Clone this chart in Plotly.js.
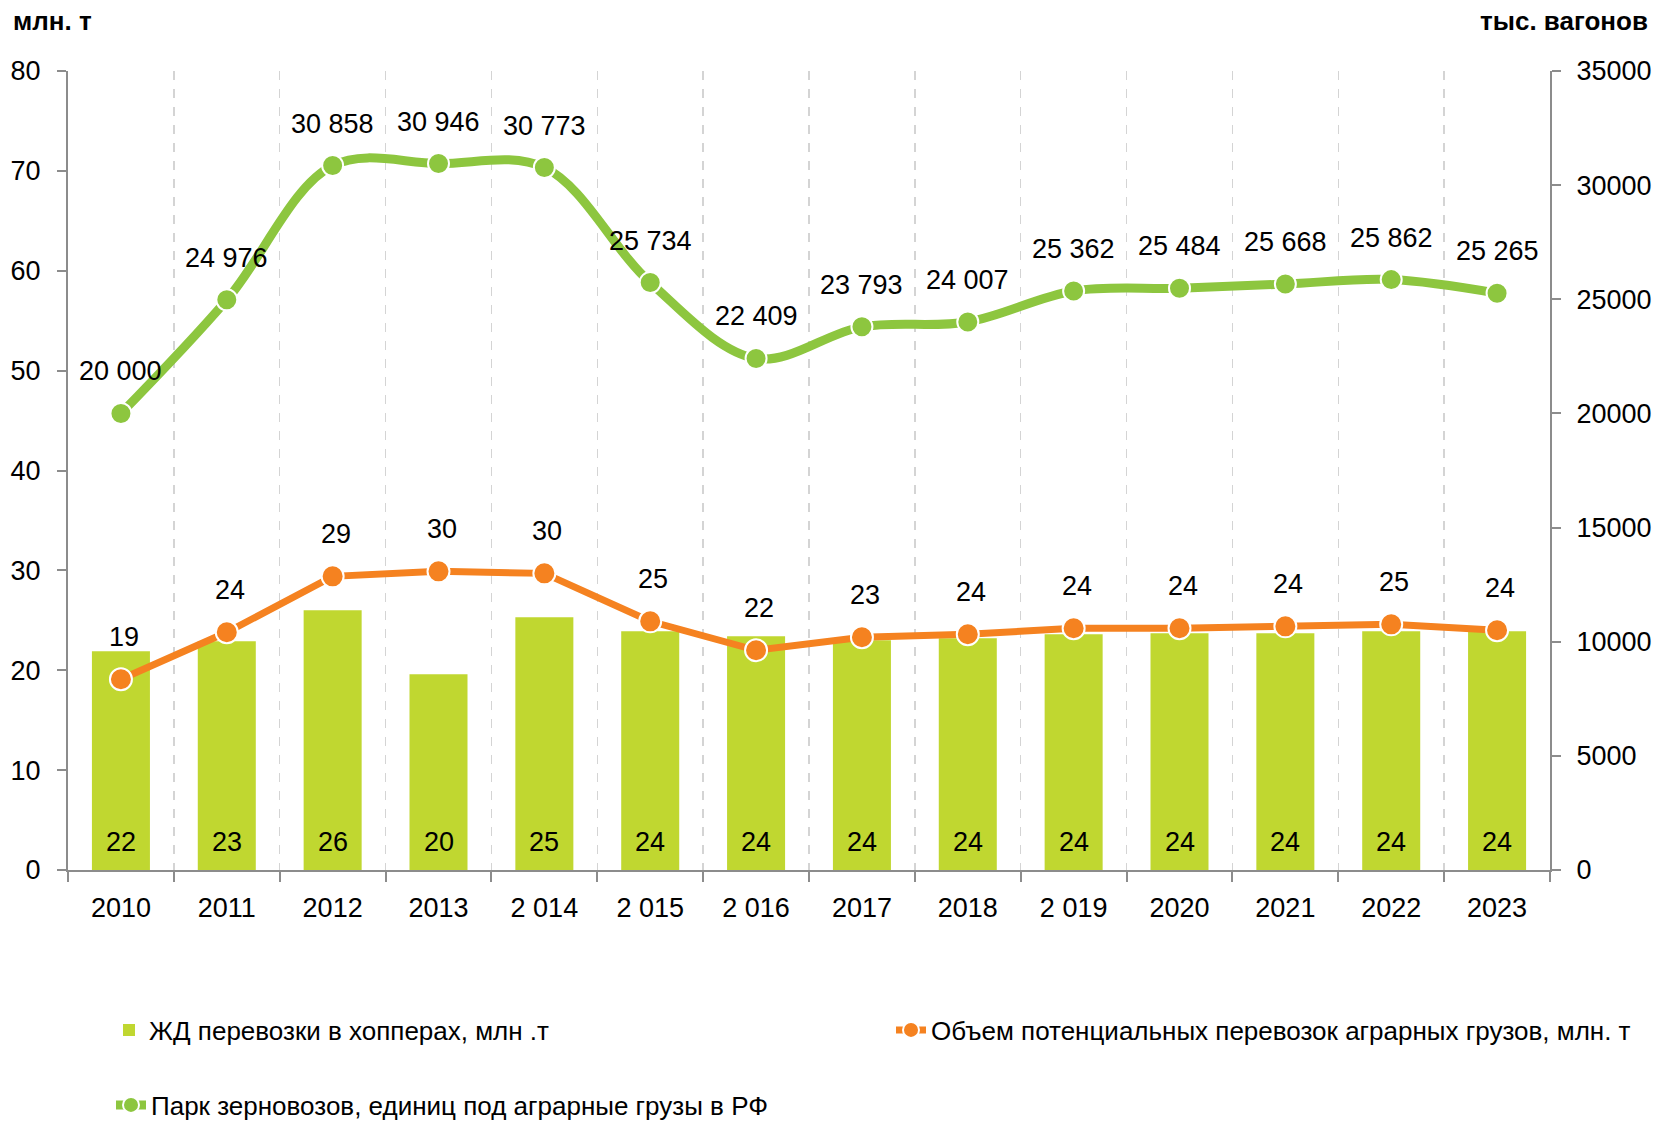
<!DOCTYPE html>
<html>
<head>
<meta charset="utf-8">
<script src="https://cdn.plot.ly/plotly-3.0.1.min.js"></script>
<style>
  html, body { margin: 0; padding: 0; background: #ffffff; }
  #chart { width: 1655px; height: 1121px; }
</style>
</head>
<body>
<div id="chart"></div>
<script>
// ---- data ----
const years = ["2010", "2011", "2012", "2013", "2 014", "2 015", "2 016", "2017", "2018", "2 019", "2020", "2021", "2022", "2023"];
const hopperTransport = [21.9, 22.9, 26.0, 19.6, 25.3, 23.9, 23.4, 23.0, 23.2, 23.6, 23.7, 23.7, 23.9, 23.9];
const hopperLabels = ["22", "23", "26", "20", "25", "24", "24", "24", "24", "24", "24", "24", "24", "24"];
const potentialVolume = [19.1, 23.8, 29.4, 29.9, 29.7, 24.9, 22.0, 23.3, 23.6, 24.2, 24.2, 24.4, 24.6, 24.0];
const grainCarFleet = [20000, 24976, 30858, 30946, 30773, 25734, 22409, 23793, 24007, 25362, 25484, 25668, 25862, 25265];

const seriesNames = [
  "ЖД перевозки в хопперах, млн .т",
  "Объем потенциальных перевозок аграрных грузов, млн. т",
  "Парк зерновозов, единиц под аграрные грузы в РФ"
];
const leftUnit = "млн. т";
const rightUnit = "тыс. вагонов";

// ---- style ----
const FONT = "'Liberation Sans', Arial, sans-serif";
const barColor = "#C0D730";
const orange = "#F58220";
const green = "#8DC63F";
const axisGray = "#8c8c8c";

function fmtThousands(v) {
  return String(v).replace(/\B(?=(\d{3})+(?!\d))/g, " ");
}

const traces = [
  { type: "bar", name: seriesNames[0], x: years, y: hopperTransport,
    marker: { color: barColor }, yaxis: "y", legend: "legend" },
  { type: "scatter", mode: "lines+markers", name: seriesNames[1], x: years, y: potentialVolume,
    line: { color: orange, width: 7 },
    marker: { color: orange, size: 22, line: { color: "#ffffff", width: 2 } },
    yaxis: "y", cliponaxis: false, legend: "legend2" },
  { type: "scatter", mode: "lines+markers", name: seriesNames[2], x: years, y: grainCarFleet,
    line: { color: green, width: 9, shape: "spline", smoothing: 1 },
    marker: { color: green, size: 21, line: { color: "#ffffff", width: 2 } },
    yaxis: "y2", cliponaxis: false, legend: "legend3" }
];

// annotations use the category index (position of each year on the category axis)
const labelFont = { family: FONT, size: 27, color: "#000000" };
const annotations = [];
years.forEach((yr, i) => {
  annotations.push({ x: i, y: 0, xref: "x", yref: "y", text: hopperLabels[i], showarrow: false,
    yanchor: "middle", yshift: 28, font: labelFont });
  annotations.push({ x: i, y: potentialVolume[i], xref: "x", yref: "y",
    text: String(Math.round(potentialVolume[i])), showarrow: false,
    yanchor: "middle", yshift: 42, xshift: 3, font: labelFont });
  annotations.push({ x: i, y: grainCarFleet[i], xref: "x", yref: "y2",
    text: fmtThousands(grainCarFleet[i]), showarrow: false,
    yanchor: "middle", yshift: 42, font: labelFont });
});
annotations.push({ xref: "paper", yref: "paper", x: -0.0385, y: 1.0626, xanchor: "left", yanchor: "middle",
  showarrow: false, text: "<b>" + leftUnit + "</b>", font: { family: FONT, size: 26, color: "#000000" } });
annotations.push({ xref: "paper", yref: "paper", x: 1.0675, y: 1.0626, xanchor: "right", yanchor: "middle",
  showarrow: false, text: "<b>" + rightUnit + "</b>", font: { family: FONT, size: 26, color: "#000000" } });

const tickFont = { family: FONT, size: 27, color: "#000000" };
const axisCommon = {
  ticks: "outside", tickwidth: 2, tickcolor: axisGray,
  showline: true, linecolor: axisGray, linewidth: 2, tickfont: tickFont, fixedrange: true
};
const legendBase = { xref: "container", yref: "container", xanchor: "left", yanchor: "middle",
  bgcolor: "rgba(0,0,0,0)", font: { family: FONT, size: 26, color: "#000000" } };

const layout = {
  width: 1655, height: 1121, paper_bgcolor: "#ffffff", plot_bgcolor: "#ffffff",
  margin: { l: 68, r: 105, t: 71, b: 251, autoexpand: false },
  font: { family: FONT, size: 27, color: "#000000" },
  bargap: 0.452, showlegend: true,
  xaxis: Object.assign({}, axisCommon, {
    type: "category", range: [-0.5, years.length - 0.5], autorange: false,
    tickson: "boundaries", showgrid: true, gridcolor: "#d4d4d4", gridwidth: 1.5,
    griddash: "dash", ticklen: 10, tickangle: 0, ticklabelstandoff: 13, automargin: false
  }),
  yaxis: Object.assign({}, axisCommon, {
    range: [0, 80], dtick: 10, showgrid: false, zeroline: false, ticklen: 9, ticklabelstandoff: 11, automargin: false
  }),
  yaxis2: Object.assign({}, axisCommon, {
    overlaying: "y", side: "right", range: [0, 35000], dtick: 5000, tickformat: "d",
    showgrid: false, zeroline: false, ticklen: 9, ticklabelstandoff: 10, automargin: false
  }),
  legend: Object.assign({}, legendBase, { x: (149 - 40) / 1655, y: 1 - 1030 / 1121 }),
  legend2: Object.assign({}, legendBase, { x: (931 - 40) / 1655, y: 1 - 1030 / 1121 }),
  legend3: Object.assign({}, legendBase, { x: (151 - 40) / 1655, y: 1 - 1105 / 1121 }),
  annotations: annotations
};

Plotly.newPlot("chart", traces, layout, { displayModeBar: false, staticPlot: true });
</script>
</body>
</html>
